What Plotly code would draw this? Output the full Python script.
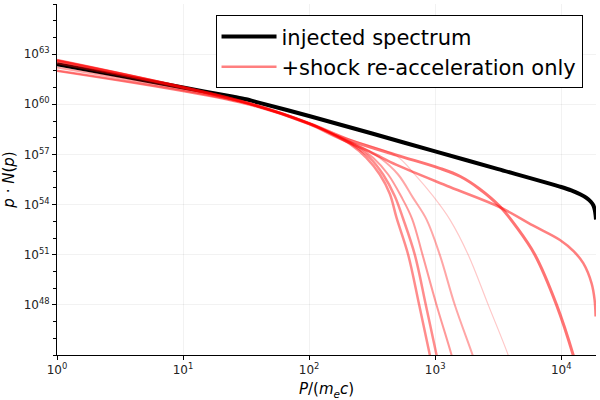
import numpy as np
import plotly.graph_objects as go

# log10(P/(m_e c)) and log10(p N(p))
inj_lp = [0, 0.5, 1.0, 1.4, 1.5, 1.6, 2.0, 2.5, 3.0, 3.5, 4.0, 4.08, 4.15, 4.2, 4.235, 4.255, 4.267, 4.273, 4.276]
inj_ly = [62.40, 61.70, 61.00, 60.45, 60.30, 60.10, 59.30, 58.25, 57.18, 56.12, 55.05, 54.85, 54.62, 54.40, 54.17, 53.95, 53.65, 53.35, 53.10]

r1_lp = [0, 1.5, 2.0, 2.2, 2.33, 2.455, 2.561, 2.64, 2.694, 2.786, 2.873, 2.958, 3.0]
r1_ly = [62.65, 60.10, 58.85, 58.15, 57.60, 56.80, 55.80, 54.65, 53.20, 51.00, 48.00, 45.00, 43.50]

r2_lp = [0, 1.5, 2.0, 2.2, 2.35, 2.482, 2.587, 2.68, 2.746, 2.839, 2.926, 3.011, 3.05]
r2_ly = [62.60, 60.10, 58.86, 58.17, 57.55, 56.80, 55.80, 54.50, 53.15, 50.99, 47.99, 45.00, 43.50]

r3_lp = [0, 1.5, 2.0, 2.2, 2.37, 2.508, 2.627, 2.733, 2.817, 2.90, 3.011, 3.13, 3.17]
r3_ly = [62.45, 60.08, 58.86, 58.18, 57.55, 56.80, 55.80, 54.45, 53.15, 50.99, 47.99, 45.00, 43.80]

r4_lp = [0, 1.5, 2.0, 2.2, 2.40, 2.561, 2.706, 2.825, 2.932, 3.037, 3.156, 3.297, 3.34]
r4_ly = [62.20, 60.06, 58.86, 58.20, 57.50, 56.80, 55.80, 54.40, 53.10, 50.99, 47.99, 45.00, 44.00]

r5_lp = [0, 1.5, 2.0, 2.2, 2.45, 2.694, 2.85, 2.984, 3.117, 3.262, 3.421, 3.579, 3.62]
r5_ly = [62.00, 60.05, 58.87, 58.22, 57.60, 56.90, 55.70, 54.50, 53.10, 51.00, 48.00, 45.00, 44.00]

r6_lp = [0, 1.5, 2.0, 2.323, 2.694, 3.037, 3.2, 3.35, 3.514, 3.646, 3.791, 3.963, 4.095, 4.13]
r6_ly = [62.60, 60.10, 58.85, 57.85, 56.96, 56.17, 55.68, 54.95, 53.88, 52.65, 51.00, 48.00, 45.00, 44.00]

r7_lp = [0, 1.5, 2.0, 2.2, 2.482, 2.694, 3.117, 3.514, 3.775, 3.99, 4.10, 4.175, 4.241, 4.265, 4.273]
r7_ly = [62.00, 60.03, 58.82, 58.10, 57.16, 56.37, 55.05, 53.84, 52.75, 51.88, 51.20, 50.49, 49.29, 48.30, 47.30]

x_ticks = [0, 1, 2, 3, 4]
y_ticks = [48, 51, 54, 57, 60, 63]

reds = [
    (r1_lp, r1_ly, 2.5, 0.45),
    (r2_lp, r2_ly, 2.5, 0.45),
    (r3_lp, r3_ly, 2.0, 0.40),
    (r4_lp, r4_ly, 2.0, 0.35),
    (r5_lp, r5_ly, 1.2, 0.22),
    (r6_lp, r6_ly, 3.0, 0.55),
    (r7_lp, r7_ly, 2.5, 0.50),
]

fig = go.Figure()

fig.add_trace(go.Scatter(
    x=np.power(10.0, inj_lp), y=np.power(10.0, inj_ly),
    mode='lines', name='injected spectrum',
    line=dict(color='black', width=4, shape='spline', smoothing=0.8),
))

# legend sample uses the last red curve
for i, (lp, ly, w, a) in enumerate(reds):
    fig.add_trace(go.Scatter(
        x=np.power(10.0, lp), y=np.power(10.0, ly),
        mode='lines', name='+shock re-acceleration only',
        line=dict(color=f'rgba(255,0,0,{a})', width=w, shape='spline', smoothing=1.0),
        showlegend=(i == len(reds) - 1),
    ))

tick_font = dict(family='DejaVu Sans', size=12, color='#222222')
grid = 'rgba(0,0,0,0.05)'

fig.update_layout(
    width=600, height=400,
    margin=dict(l=57, r=4, t=4, b=45, autoexpand=False),
    paper_bgcolor='white', plot_bgcolor='white',
    font=dict(family='DejaVu Sans', color='black'),
    showlegend=True,
    legend=dict(
        x=0.975, y=0.968, xanchor='right', yanchor='top',
        bgcolor='white', bordercolor='black', borderwidth=1,
        font=dict(family='DejaVu Sans', size=21, color='black'),
        traceorder='normal', itemwidth=55,
    ),
)

fig.update_xaxes(
    type='log', range=[0, 4.276], automargin=False,
    tickvals=[10.0 ** k for k in x_ticks],
    ticktext=[f'10<sup>{k}</sup>' for k in x_ticks],
    tickfont=tick_font,
    showline=True, linecolor='black', linewidth=1, mirror=False,
    ticks='outside', ticklen=4, tickcolor='black',
    showgrid=True, gridcolor=grid, zeroline=False,
    title=dict(text='<i>P</i>/(<i>m<sub>e</sub>c</i>)', font=dict(size=15), standoff=7),
)

fig.update_yaxes(
    type='log', range=[45, 66], automargin=False,
    tickvals=[10.0 ** k for k in y_ticks],
    ticktext=[f'10<sup>{k}</sup>' for k in y_ticks],
    tickfont=tick_font,
    showline=True, linecolor='black', linewidth=1, mirror=False,
    ticks='outside', ticklen=4, tickcolor='black',
    minor=dict(tickvals=[10.0 ** k for k in range(45, 67)], ticks='outside', ticklen=3,
               tickcolor='black', showgrid=False),
    showgrid=True, gridcolor=grid, zeroline=False,
    title=dict(text='<i>p</i> · <i>N</i>(<i>p</i>)', font=dict(size=15), standoff=6),
)

# the page body has a default 8px margin; drop it so the figure fills the window
fig.write_html("out.html", config={'displayModeBar': False},
               post_script="document.body.style.margin='0px';")
